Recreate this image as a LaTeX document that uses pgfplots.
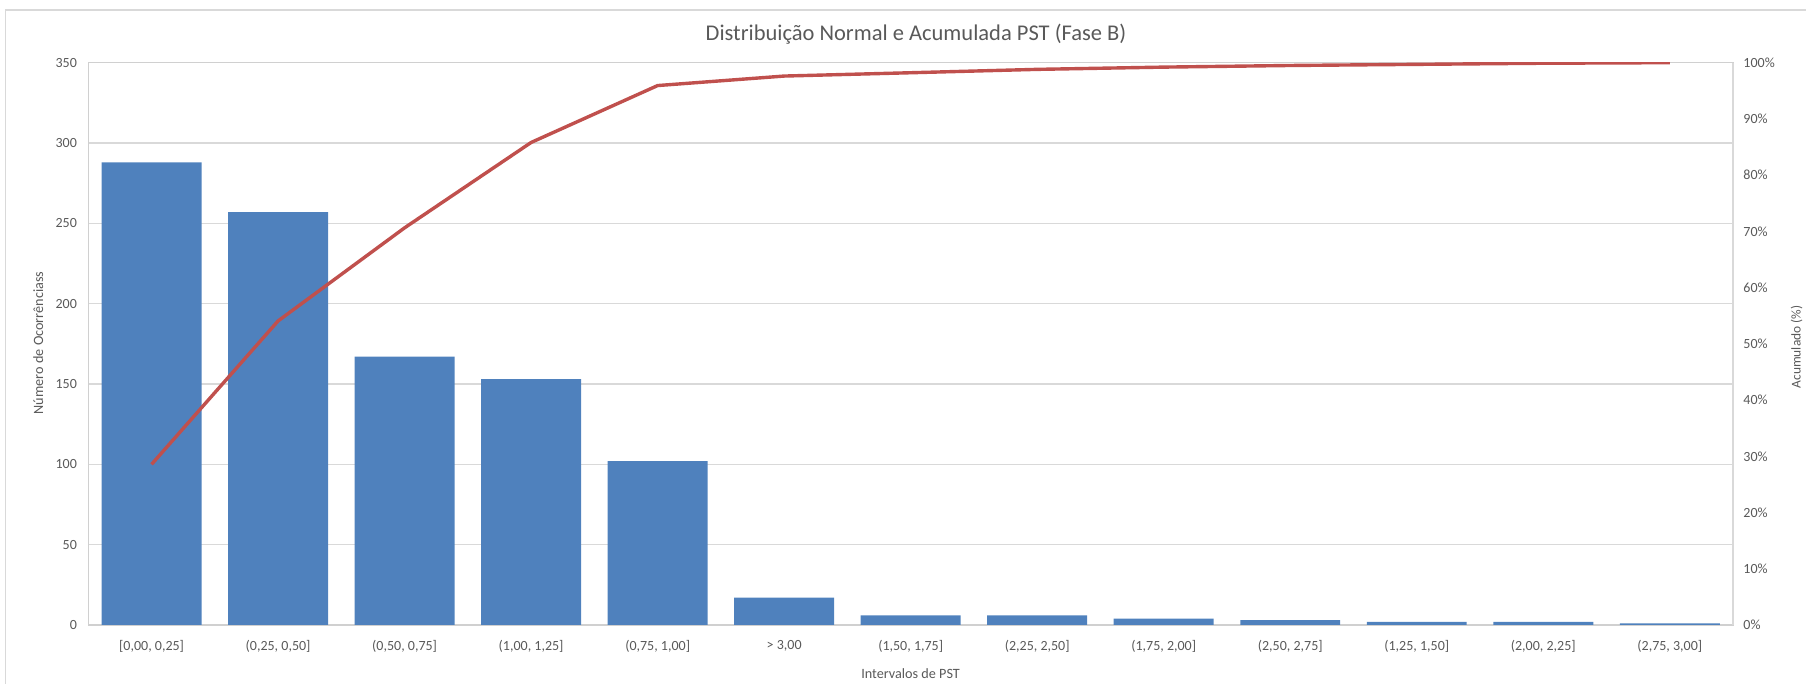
\documentclass[border=0pt]{standalone}
\usepackage{fontspec}
\setmainfont{Carlito}
\usepackage{pgfplots}
\pgfplotsset{compat=1.18}
\definecolor{barblue}{HTML}{4F81BD}
\definecolor{linered}{HTML}{C0504D}
\definecolor{txtgray}{HTML}{595959}
\definecolor{gridgray}{HTML}{D9D9D9}
\definecolor{axgray}{HTML}{D0D0D0}
\begin{document}
\begin{tikzpicture}[x=0.5bp,y=0.5bp]
\path[use as bounding box] (0,0) rectangle (1806,684);
\draw[gridgray, line width=0.6bp] (5.7,0) -- (5.7,674) -- (1806,674);
\pgfplotsset{
  common/.style={
    at={(44.15bp,29.5bp)}, anchor=south west,
    scale only axis, width=822.35bp, height=281.15bp,
    xmin=-0.5, xmax=12.5,
    major tick length=0pt,
    tick label style={font=\fontsize{7bp}{8bp}\selectfont, text=txtgray},
    /pgf/number format/assume math mode=true,
  }
}
\begin{axis}[common,
  ymin=0, ymax=350, ytick distance=50,
  ymajorgrids, grid style={gridgray, line width=0.6bp},
  axis line style={axgray, line width=0.6bp},
  xtick={0,...,12},
  xticklabels={{[0,00, 0,25]},{(0,25, 0,50]},{(0,50, 0,75]},{(1,00, 1,25]},{(0,75, 1,00]},{> 3,00},{(1,50, 1,75]},{(2,25, 2,50]},{(1,75, 2,00]},{(2,50, 2,75]},{(1,25, 1,50]},{(2,00, 2,25]},{(2,75, 3,00]}},
  xticklabel style={anchor=center, inner sep=0pt, yshift=-10.5bp},
  yticklabel style={anchor=east, inner sep=0pt, xshift=-5.5bp},
  ytick pos=left, xtick pos=bottom,
]
\addplot[ybar, bar width=0.79, fill=barblue, draw=none] coordinates {
 (0,288) (1,257) (2,167) (3,153) (4,102) (5,17) (6,6) (7,6) (8,4) (9,3) (10,2) (11,2) (12,1)
};
\end{axis}
\begin{axis}[common,
  ymin=0, ymax=100, ytick distance=10,
  axis y line*=right, axis x line=none,
  axis line style={gridgray, line width=0.6bp},
  yticklabel={\pgfmathprintnumber{\tick}\%},
  yticklabel style={anchor=west, inner sep=0pt, xshift=5bp},
]
\addplot[linered, line width=1.7bp, line join=round] coordinates {
 (0,28.57) (1,54.07) (2,70.63) (3,85.81) (4,95.93) (5,97.62) (6,98.21) (7,98.81) (8,99.21) (9,99.50) (10,99.70) (11,99.90) (12,100)
};
\end{axis}
\node[text=txtgray, font=\fontsize{11.25bp}{13bp}\selectfont] at (916,649.4) {Distribuição Normal e Acumulada PST (Fase B)};
\node[text=txtgray, font=\fontsize{7.1bp}{8bp}\selectfont] at (910.6,10) {Intervalos de PST};
\node[text=txtgray, font=\fontsize{7.1bp}{8bp}\selectfont, rotate=90] at (38.3,341) {Número de Ocorrênciass};
\node[text=txtgray, font=\fontsize{6.7bp}{8bp}\selectfont, rotate=90] at (1796.7,337) {Acumulado (\%)};
\end{tikzpicture}
\end{document}
